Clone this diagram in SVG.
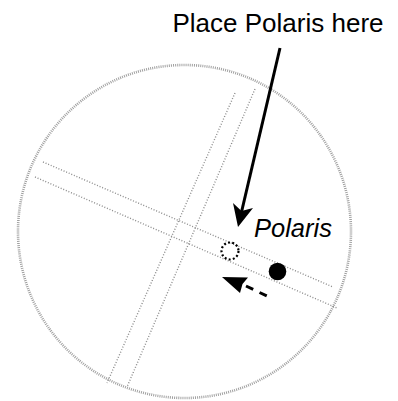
<svg xmlns="http://www.w3.org/2000/svg" width="398" height="401" viewBox="0 0 398 401">
<style>
.stip{fill:none;stroke:#8c8c8c;stroke-width:1.4;stroke-dasharray:1 1.8}
.ring{fill:none;stroke:#a0a0a0;stroke-width:2.6;stroke-dasharray:1 1.1}
.lbl{font-family:"Liberation Sans",Arial,sans-serif;fill:#000}
</style>
<rect width="398" height="401" fill="#fff"/>
<g id="eyepiece">
<circle class="ring" cx="184.5" cy="231.5" r="166.5"/>
</g>
<g id="reticle-ra">
<line class="stip" x1="43" y1="162" x2="333" y2="287"/>
<line class="stip" x1="35" y1="177" x2="337" y2="308"/>
</g>
<g id="reticle-dec">
<line class="stip" x1="235" y1="93" x2="107" y2="383"/>
<line class="stip" x1="255" y1="89" x2="127" y2="387"/>
</g>
<g id="target">
<circle cx="230" cy="251" r="8.5" fill="none" stroke="#000" stroke-width="2.2" stroke-dasharray="2 2.2"/>
</g>
<g id="polaris-star">
<circle cx="277.5" cy="271.5" r="8.8" fill="#000"/>
</g>
<g id="label-place">
<text class="lbl" x="172.5" y="32" font-size="26">Place Polaris here</text>
</g>
<g id="label-polaris">
<text class="lbl" x="254" y="237" font-size="25.5" font-style="italic">Polaris</text>
</g>
<g id="connectors">
<line x1="280" y1="48" x2="241.5" y2="212" stroke="#000" stroke-width="3"/>
<path d="M238,227 L233,203 L241.5,211 L253,208 Z" fill="#000"/>
<line x1="246" y1="286" x2="270" y2="297.5" stroke="#000" stroke-width="3" stroke-dasharray="8 7"/>
<path d="M222,277 L248,277.5 L242.5,284 L240,293 Z" fill="#000"/>
</g>
</svg>
